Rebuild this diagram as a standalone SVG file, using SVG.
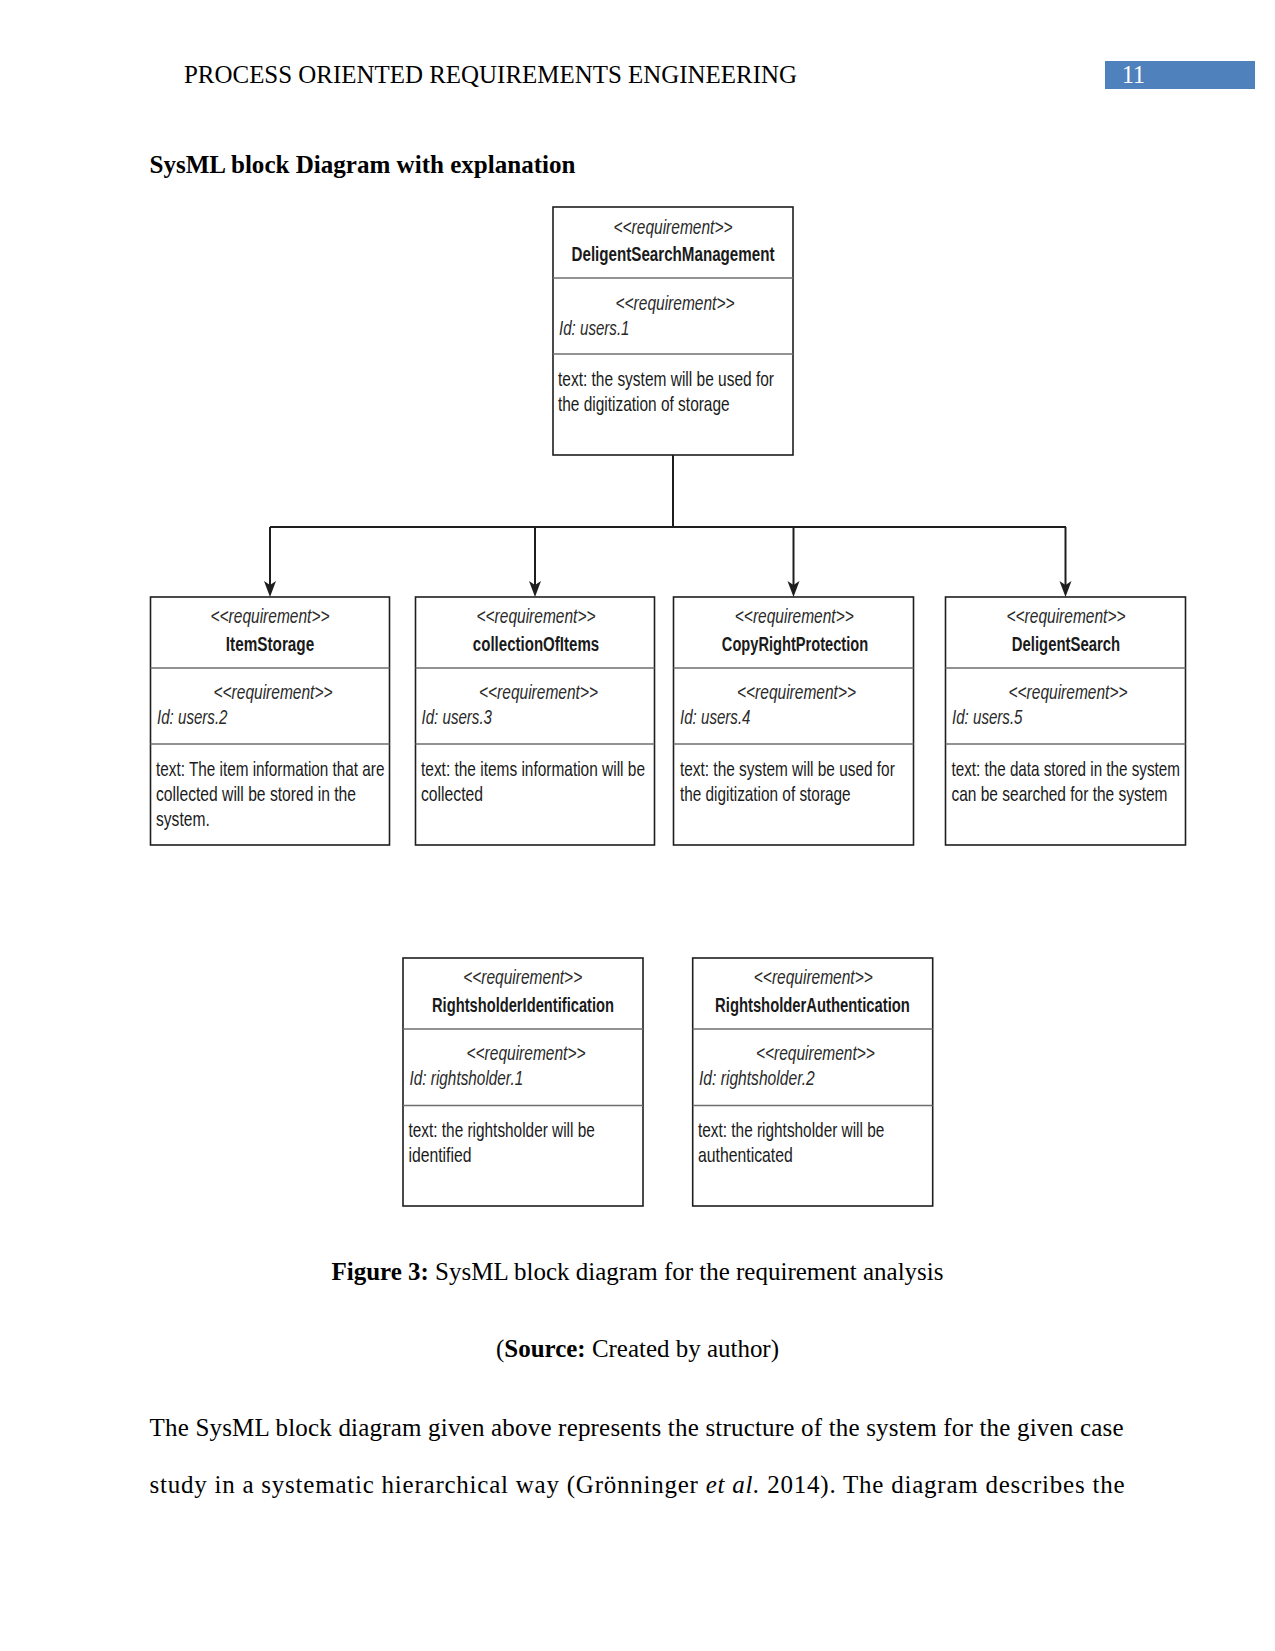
<svg xmlns="http://www.w3.org/2000/svg" width="1275" height="1651" viewBox="0 0 1275 1651">
<style>
.page{fill:#fff}
.box{fill:#fff;stroke:#1e1e1e;stroke-width:1.6}
.dv{stroke:#6e6e6e;stroke-width:1.6}
.st{font-family:"Liberation Sans Narrow","Liberation Sans",Arial,sans-serif;font-size:20px;font-style:italic;fill:#2a2a2a;text-anchor:middle}
.nm{font-family:"Liberation Sans Narrow","Liberation Sans",Arial,sans-serif;font-size:20px;font-weight:bold;fill:#1a1a1a;text-anchor:middle}
.id{font-family:"Liberation Sans Narrow","Liberation Sans",Arial,sans-serif;font-size:20px;font-style:italic;fill:#2a2a2a}
.tx{font-family:"Liberation Sans Narrow","Liberation Sans",Arial,sans-serif;font-size:20px;fill:#1a1a1a}
.serif{font-family:"Liberation Serif","Times New Roman",serif;font-size:25px;fill:#000}
.b{font-weight:bold}
.conn{fill:none;stroke:#1e1e1e;stroke-width:2}
</style>
<defs>
<marker id="arr" markerUnits="userSpaceOnUse" markerWidth="18" markerHeight="14" refX="4" refY="6" orient="auto">
<path d="M0,0 L16,6 L0,12 L4,6 z" fill="#1e1e1e"/>
</marker>
</defs>
<rect class="page" x="0" y="0" width="1275" height="1651"/>

<g id="header">
<text class="serif" x="184" y="83" textLength="613" lengthAdjust="spacingAndGlyphs">PROCESS ORIENTED REQUIREMENTS ENGINEERING</text>
<rect x="1105" y="61" width="150" height="28" fill="#4f81bd"/>
<text class="serif" x="1122" y="83" style="fill:#fff" textLength="23" lengthAdjust="spacingAndGlyphs">11</text>
</g>
<text class="serif b" x="149.5" y="173" textLength="426" lengthAdjust="spacingAndGlyphs">SysML block Diagram with explanation</text>

<g id="connectors">
<path class="conn" d="M673,455 V527"/>
<path class="conn" d="M270,527 H1066"/>
<path class="conn" d="M270,527 V585" marker-end="url(#arr)"/>
<path class="conn" d="M535,527 V585" marker-end="url(#arr)"/>
<path class="conn" d="M793.5,527 V585" marker-end="url(#arr)"/>
<path class="conn" d="M1065.5,527 V585" marker-end="url(#arr)"/>
</g>

<g id="DeligentSearchManagement">
<rect class="box" x="553" y="207" width="240" height="248"/>
<line class="dv" x1="553" y1="278" x2="793" y2="278"/>
<line class="dv" x1="553" y1="354" x2="793" y2="354"/>
<text class="st" x="673" y="233.5" textLength="119" lengthAdjust="spacingAndGlyphs">&lt;&lt;requirement&gt;&gt;</text>
<text class="nm" x="673" y="261" textLength="203" lengthAdjust="spacingAndGlyphs">DeligentSearchManagement</text>
<text class="st" x="675" y="309.5" textLength="119" lengthAdjust="spacingAndGlyphs">&lt;&lt;requirement&gt;&gt;</text>
<text class="id" x="559" y="334.5" textLength="70.5" lengthAdjust="spacingAndGlyphs">Id: users.1</text>
<text class="tx" transform="translate(558,385.5) scale(0.85,1)" textLength="254.1" lengthAdjust="spacingAndGlyphs">text: the system will be used for</text>
<text class="tx" transform="translate(558,410.5) scale(0.85,1)" textLength="201.9" lengthAdjust="spacingAndGlyphs">the digitization of storage</text>
</g>

<g id="ItemStorage">
<rect class="box" x="150.5" y="597" width="239" height="248"/>
<line class="dv" x1="150.5" y1="668" x2="389.5" y2="668"/>
<line class="dv" x1="150.5" y1="744" x2="389.5" y2="744"/>
<text class="st" x="270" y="623.3" textLength="119" lengthAdjust="spacingAndGlyphs">&lt;&lt;requirement&gt;&gt;</text>
<text class="nm" x="270" y="650.6" textLength="88.4" lengthAdjust="spacingAndGlyphs">ItemStorage</text>
<text class="st" x="273" y="699" textLength="119" lengthAdjust="spacingAndGlyphs">&lt;&lt;requirement&gt;&gt;</text>
<text class="id" x="157" y="724.3" textLength="70.5" lengthAdjust="spacingAndGlyphs">Id: users.2</text>
<text class="tx" transform="translate(156,776) scale(0.85,1)" textLength="268.8" lengthAdjust="spacingAndGlyphs">text: The item information that are</text>
<text class="tx" transform="translate(156,801) scale(0.85,1)" textLength="235.3" lengthAdjust="spacingAndGlyphs">collected will be stored in the</text>
<text class="tx" transform="translate(156,826.3) scale(0.85,1)" textLength="63.2" lengthAdjust="spacingAndGlyphs">system.</text>
</g>

<g id="collectionOfItems">
<rect class="box" x="415.5" y="597" width="239" height="248"/>
<line class="dv" x1="415.5" y1="668" x2="654.5" y2="668"/>
<line class="dv" x1="415.5" y1="744" x2="654.5" y2="744"/>
<text class="st" x="536" y="623.3" textLength="119" lengthAdjust="spacingAndGlyphs">&lt;&lt;requirement&gt;&gt;</text>
<text class="nm" x="536" y="650.6" textLength="126.3" lengthAdjust="spacingAndGlyphs">collectionOfItems</text>
<text class="st" x="538.5" y="699" textLength="119" lengthAdjust="spacingAndGlyphs">&lt;&lt;requirement&gt;&gt;</text>
<text class="id" x="421.5" y="724.3" textLength="70.5" lengthAdjust="spacingAndGlyphs">Id: users.3</text>
<text class="tx" transform="translate(421,776) scale(0.85,1)" textLength="263.5" lengthAdjust="spacingAndGlyphs">text: the items information will be</text>
<text class="tx" transform="translate(421,801) scale(0.85,1)" textLength="72.9" lengthAdjust="spacingAndGlyphs">collected</text>
</g>

<g id="CopyRightProtection">
<rect class="box" x="673.5" y="597" width="240" height="248"/>
<line class="dv" x1="673.5" y1="668" x2="913.5" y2="668"/>
<line class="dv" x1="673.5" y1="744" x2="913.5" y2="744"/>
<text class="st" x="794.3" y="623.3" textLength="119" lengthAdjust="spacingAndGlyphs">&lt;&lt;requirement&gt;&gt;</text>
<text class="nm" x="795" y="650.6" textLength="146.3" lengthAdjust="spacingAndGlyphs">CopyRightProtection</text>
<text class="st" x="796.5" y="699" textLength="119" lengthAdjust="spacingAndGlyphs">&lt;&lt;requirement&gt;&gt;</text>
<text class="id" x="680" y="724.3" textLength="70.5" lengthAdjust="spacingAndGlyphs">Id: users.4</text>
<text class="tx" transform="translate(680,776) scale(0.85,1)" textLength="252.7" lengthAdjust="spacingAndGlyphs">text: the system will be used for</text>
<text class="tx" transform="translate(680,801) scale(0.85,1)" textLength="200.7" lengthAdjust="spacingAndGlyphs">the digitization of storage</text>
</g>

<g id="DeligentSearch">
<rect class="box" x="945.5" y="597" width="240" height="248"/>
<line class="dv" x1="945.5" y1="668" x2="1185.5" y2="668"/>
<line class="dv" x1="945.5" y1="744" x2="1185.5" y2="744"/>
<text class="st" x="1066" y="623.3" textLength="119" lengthAdjust="spacingAndGlyphs">&lt;&lt;requirement&gt;&gt;</text>
<text class="nm" x="1066" y="650.6" textLength="108.4" lengthAdjust="spacingAndGlyphs">DeligentSearch</text>
<text class="st" x="1068" y="699" textLength="119" lengthAdjust="spacingAndGlyphs">&lt;&lt;requirement&gt;&gt;</text>
<text class="id" x="952" y="724.3" textLength="70.5" lengthAdjust="spacingAndGlyphs">Id: users.5</text>
<text class="tx" transform="translate(951.5,776) scale(0.85,1)" textLength="268.8" lengthAdjust="spacingAndGlyphs">text: the data stored in the system</text>
<text class="tx" transform="translate(951.5,801) scale(0.85,1)" textLength="254.1" lengthAdjust="spacingAndGlyphs">can be searched for the system</text>
</g>

<g id="RightsholderIdentification">
<rect class="box" x="403" y="958" width="240" height="248"/>
<line class="dv" x1="403" y1="1029" x2="643" y2="1029"/>
<line class="dv" x1="403" y1="1105.5" x2="643" y2="1105.5"/>
<text class="st" x="522.7" y="984.4" textLength="119" lengthAdjust="spacingAndGlyphs">&lt;&lt;requirement&gt;&gt;</text>
<text class="nm" x="523" y="1011.7" textLength="182" lengthAdjust="spacingAndGlyphs">RightsholderIdentification</text>
<text class="st" x="526" y="1060" textLength="119" lengthAdjust="spacingAndGlyphs">&lt;&lt;requirement&gt;&gt;</text>
<text class="id" x="409.5" y="1085.4" textLength="113.7" lengthAdjust="spacingAndGlyphs">Id: rightsholder.1</text>
<text class="tx" transform="translate(408.5,1137) scale(0.85,1)" textLength="219.2" lengthAdjust="spacingAndGlyphs">text: the rightsholder will be</text>
<text class="tx" transform="translate(408.5,1162.3) scale(0.85,1)" textLength="74.1" lengthAdjust="spacingAndGlyphs">identified</text>
</g>

<g id="RightsholderAuthentication">
<rect class="box" x="692.7" y="958" width="240" height="248"/>
<line class="dv" x1="692.7" y1="1029" x2="932.7" y2="1029"/>
<line class="dv" x1="692.7" y1="1105.5" x2="932.7" y2="1105.5"/>
<text class="st" x="813.3" y="984.4" textLength="119" lengthAdjust="spacingAndGlyphs">&lt;&lt;requirement&gt;&gt;</text>
<text class="nm" x="812.5" y="1011.7" textLength="194.8" lengthAdjust="spacingAndGlyphs">RightsholderAuthentication</text>
<text class="st" x="815.4" y="1060" textLength="119" lengthAdjust="spacingAndGlyphs">&lt;&lt;requirement&gt;&gt;</text>
<text class="id" x="699" y="1085.4" textLength="115.8" lengthAdjust="spacingAndGlyphs">Id: rightsholder.2</text>
<text class="tx" transform="translate(698,1137) scale(0.85,1)" textLength="219.2" lengthAdjust="spacingAndGlyphs">text: the rightsholder will be</text>
<text class="tx" transform="translate(698,1162.3) scale(0.85,1)" textLength="111.5" lengthAdjust="spacingAndGlyphs">authenticated</text>
</g>

<g id="caption">
<text class="serif" x="331.5" y="1280" textLength="612" lengthAdjust="spacingAndGlyphs"><tspan class="b">Figure 3:</tspan> SysML block diagram for the requirement analysis</text>
<text class="serif" x="496" y="1357" textLength="283" lengthAdjust="spacingAndGlyphs">(<tspan class="b">Source:</tspan> Created by author)</text>
</g>

<g id="body">
<text class="serif" x="149.5" y="1436" textLength="974" lengthAdjust="spacing">The SysML block diagram given above represents the structure of the system for the given case</text>
<text class="serif" x="149.5" y="1493" textLength="975" lengthAdjust="spacing">study in a systematic hierarchical way (Grönninger <tspan font-style="italic">et al.</tspan> 2014). The diagram describes the</text>
</g>
</svg>
